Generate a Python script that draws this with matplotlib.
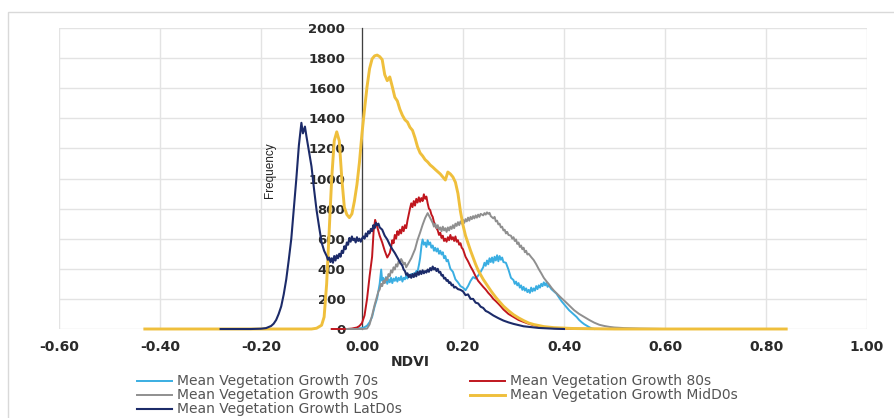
import matplotlib.pyplot as plt
import numpy as np
from matplotlib.patches import Rectangle

# NDVI histograms, (ndvi, frequency) pairs per period
growth_70s = [(-0.04, 0), (-0.02, 0), (-0.01, 3), (0.0, 6), (0.005, 12), (0.01, 22), (0.015, 45), (0.02, 80),
              (0.025, 150), (0.03, 205), (0.035, 300), (0.038, 395), (0.04, 320), (0.042, 340), (0.045, 310),
              (0.0475, 345), (0.05, 300), (0.0525, 330), (0.055, 310), (0.0575, 340), (0.06, 305), (0.0625, 335),
              (0.065, 320), (0.0675, 345), (0.07, 315), (0.0725, 340), (0.075, 325), (0.0775, 350), (0.08, 315),
              (0.0825, 340), (0.085, 330), (0.0875, 355), (0.09, 335), (0.0925, 360), (0.095, 345),
              (0.0975, 365), (0.10, 350), (0.1025, 370), (0.105, 360), (0.1075, 385), (0.11, 380),
              (0.113, 430), (0.115, 470), (0.118, 560), (0.12, 595), (0.1225, 560), (0.125, 575),
              (0.1275, 545), (0.13, 590), (0.1325, 560), (0.135, 575), (0.1375, 540), (0.14, 555),
              (0.1425, 520), (0.145, 540), (0.1475, 515), (0.15, 535), (0.1525, 500), (0.155, 520),
              (0.1575, 495), (0.16, 510), (0.1625, 470), (0.165, 485), (0.1675, 450), (0.17, 460),
              (0.175, 400), (0.18, 380), (0.185, 330), (0.19, 310), (0.195, 285), (0.20, 275), (0.205, 258),
              (0.21, 285), (0.215, 320), (0.22, 345), (0.225, 335), (0.23, 355), (0.235, 380), (0.24, 410),
              (0.2425, 440), (0.245, 420), (0.2475, 455), (0.25, 430), (0.2525, 470), (0.255, 445),
              (0.2575, 475), (0.26, 440), (0.2625, 480), (0.265, 455), (0.2675, 490), (0.27, 450),
              (0.2725, 485), (0.275, 460), (0.2775, 475), (0.28, 445), (0.285, 440), (0.29, 395),
              (0.295, 340), (0.30, 325), (0.3025, 300), (0.305, 315), (0.3075, 290), (0.31, 305),
              (0.3125, 275), (0.315, 290), (0.3175, 260), (0.32, 280), (0.3225, 255), (0.325, 270),
              (0.3275, 245), (0.33, 260), (0.3325, 240), (0.335, 275), (0.3375, 250), (0.34, 270),
              (0.3425, 255), (0.345, 285), (0.3475, 265), (0.35, 290), (0.3525, 275), (0.355, 300),
              (0.3575, 285), (0.36, 310), (0.3625, 290), (0.365, 306), (0.3675, 280), (0.37, 290),
              (0.375, 265), (0.38, 250), (0.385, 235), (0.39, 210), (0.395, 185), (0.40, 165), (0.405, 145),
              (0.41, 125), (0.415, 110), (0.42, 95), (0.425, 80), (0.43, 60), (0.435, 45), (0.44, 32),
              (0.445, 22), (0.45, 12), (0.455, 4), (0.46, 0)]

growth_80s = [(-0.06, 0), (-0.03, 0), (-0.02, 3), (-0.01, 10), (-0.005, 20), (0.0, 40), (0.005, 90), (0.01, 200),
              (0.015, 350), (0.02, 480), (0.023, 650), (0.026, 725), (0.03, 680), (0.035, 620), (0.04, 575),
              (0.045, 520), (0.05, 475), (0.055, 505), (0.0575, 540), (0.06, 590), (0.0625, 570), (0.065, 625),
              (0.0675, 600), (0.07, 650), (0.0725, 625), (0.075, 660), (0.0775, 635), (0.08, 680), (0.0825, 650),
              (0.085, 690), (0.0875, 670), (0.09, 720), (0.0925, 760), (0.095, 800), (0.0975, 835), (0.10, 810),
              (0.1025, 850), (0.105, 820), (0.1075, 865), (0.11, 840), (0.1125, 875), (0.115, 845),
              (0.1175, 870), (0.12, 850), (0.1225, 895), (0.125, 865), (0.1275, 880), (0.13, 835),
              (0.1325, 800), (0.135, 790), (0.1375, 760), (0.14, 745), (0.1425, 710), (0.145, 690),
              (0.1475, 670), (0.15, 655), (0.1525, 625), (0.155, 640), (0.1575, 605), (0.16, 620),
              (0.1625, 585), (0.165, 600), (0.1675, 580), (0.17, 610), (0.1725, 590), (0.175, 625),
              (0.1775, 595), (0.18, 610), (0.1825, 585), (0.185, 615), (0.1875, 580), (0.19, 590),
              (0.1925, 560), (0.195, 570), (0.1975, 540), (0.20, 530), (0.205, 480), (0.21, 450), (0.215, 415),
              (0.22, 385), (0.225, 350), (0.23, 320), (0.235, 300), (0.24, 280), (0.245, 262), (0.25, 240),
              (0.255, 222), (0.26, 200), (0.265, 185), (0.27, 168), (0.275, 150), (0.28, 130), (0.285, 115),
              (0.29, 100), (0.295, 90), (0.30, 80), (0.31, 60), (0.32, 47), (0.33, 35), (0.34, 25), (0.36, 12),
              (0.38, 6), (0.40, 3), (0.45, 1), (0.50, 0)]

growth_90s = [(-0.03, 0), (0.0, 0), (0.01, 3), (0.015, 30), (0.02, 90), (0.025, 160), (0.03, 220), (0.0325, 250),
              (0.035, 262), (0.0375, 300), (0.04, 285), (0.0425, 320), (0.045, 305), (0.0475, 340), (0.05, 325),
              (0.0525, 365), (0.055, 350), (0.0575, 390), (0.06, 375), (0.0625, 410), (0.065, 395),
              (0.0675, 430), (0.07, 415), (0.0725, 450), (0.075, 435), (0.0775, 465), (0.08, 450),
              (0.0825, 430), (0.085, 440), (0.0875, 410), (0.09, 425), (0.0925, 440), (0.095, 455),
              (0.0975, 470), (0.10, 490), (0.105, 530), (0.11, 592), (0.115, 640), (0.12, 692), (0.125, 737),
              (0.13, 770), (0.135, 738), (0.14, 705), (0.1425, 680), (0.145, 700), (0.1475, 670), (0.15, 690),
              (0.1525, 660), (0.155, 675), (0.1575, 650), (0.16, 680), (0.1625, 655), (0.165, 670),
              (0.1675, 645), (0.17, 675), (0.1725, 655), (0.175, 680), (0.1775, 665), (0.18, 690),
              (0.1825, 670), (0.185, 700), (0.1875, 685), (0.19, 710), (0.1925, 690), (0.195, 715),
              (0.1975, 700), (0.20, 725), (0.2025, 705), (0.205, 730), (0.2075, 715), (0.21, 740),
              (0.2125, 720), (0.215, 745), (0.2175, 730), (0.22, 750), (0.2225, 735), (0.225, 755),
              (0.2275, 740), (0.23, 760), (0.2325, 745), (0.235, 765), (0.24, 755), (0.2425, 770),
              (0.245, 760), (0.2475, 775), (0.25, 765), (0.2525, 772), (0.255, 750), (0.26, 735),
              (0.2625, 745), (0.265, 715), (0.2675, 720), (0.27, 695), (0.2725, 700), (0.275, 675),
              (0.2775, 680), (0.28, 655), (0.2825, 660), (0.285, 635), (0.2875, 645), (0.29, 625),
              (0.295, 620), (0.2975, 600), (0.30, 610), (0.3025, 585), (0.305, 595), (0.3075, 565),
              (0.31, 575), (0.3125, 545), (0.315, 555), (0.3175, 530), (0.32, 540), (0.3225, 510),
              (0.325, 520), (0.3275, 495), (0.33, 500), (0.335, 478), (0.34, 458), (0.345, 430), (0.35, 398),
              (0.355, 370), (0.36, 340), (0.365, 318), (0.37, 298), (0.375, 275), (0.38, 255), (0.385, 238),
              (0.39, 220), (0.395, 205), (0.40, 190), (0.41, 158), (0.42, 125), (0.43, 100), (0.44, 80),
              (0.45, 60), (0.46, 42), (0.47, 28), (0.48, 20), (0.49, 14), (0.50, 10), (0.52, 6), (0.55, 3),
              (0.60, 0)]

growth_mid00s = [(-0.43, 0), (-0.30, 0), (-0.15, 0), (-0.10, 0), (-0.09, 5), (-0.08, 25), (-0.075, 80),
                 (-0.07, 300), (-0.065, 650), (-0.06, 1000), (-0.055, 1250), (-0.05, 1310), (-0.045, 1250),
                 (-0.04, 1000), (-0.035, 810), (-0.03, 760), (-0.025, 740), (-0.02, 765), (-0.015, 850),
                 (-0.01, 960), (-0.005, 1110), (0.0, 1300), (0.005, 1460), (0.01, 1610), (0.015, 1730),
                 (0.02, 1795), (0.025, 1815), (0.03, 1820), (0.035, 1810), (0.04, 1790), (0.045, 1690),
                 (0.05, 1650), (0.055, 1675), (0.06, 1610), (0.065, 1540), (0.07, 1515), (0.075, 1460),
                 (0.08, 1420), (0.085, 1390), (0.09, 1375), (0.095, 1340), (0.10, 1320), (0.105, 1270),
                 (0.11, 1210), (0.115, 1170), (0.12, 1150), (0.125, 1125), (0.13, 1110), (0.135, 1090),
                 (0.14, 1076), (0.145, 1060), (0.15, 1045), (0.155, 1030), (0.16, 1010), (0.165, 990),
                 (0.17, 1043), (0.175, 1030), (0.18, 1010), (0.185, 975), (0.19, 900), (0.195, 780),
                 (0.20, 690), (0.205, 620), (0.21, 570), (0.215, 520), (0.22, 475), (0.225, 430), (0.23, 390),
                 (0.235, 360), (0.24, 330), (0.245, 305), (0.25, 280), (0.255, 255), (0.26, 232), (0.265, 210),
                 (0.27, 190), (0.28, 152), (0.29, 122), (0.30, 95), (0.31, 74), (0.32, 56), (0.33, 40),
                 (0.34, 30), (0.36, 16), (0.38, 9), (0.42, 3), (0.50, 0), (0.84, 0)]

growth_lat00s = [(-0.28, 0), (-0.22, 0), (-0.20, 2), (-0.19, 6), (-0.18, 20), (-0.175, 35), (-0.17, 60),
                 (-0.165, 100), (-0.16, 150), (-0.155, 230), (-0.15, 330), (-0.145, 460), (-0.14, 600),
                 (-0.135, 800), (-0.13, 1000), (-0.125, 1220), (-0.12, 1370), (-0.117, 1300), (-0.113, 1345),
                 (-0.11, 1280), (-0.105, 1180), (-0.10, 1080), (-0.095, 930), (-0.09, 790), (-0.085, 680),
                 (-0.08, 575), (-0.075, 520), (-0.07, 485), (-0.0675, 460), (-0.065, 475), (-0.0625, 445),
                 (-0.06, 470), (-0.0575, 440), (-0.055, 485), (-0.0525, 455), (-0.05, 490), (-0.0475, 470),
                 (-0.045, 500), (-0.0425, 480), (-0.04, 520), (-0.0375, 505), (-0.035, 550), (-0.0325, 530),
                 (-0.03, 575), (-0.0275, 560), (-0.025, 605), (-0.0225, 580), (-0.02, 615), (-0.0175, 590),
                 (-0.015, 600), (-0.0125, 575), (-0.01, 610), (-0.0075, 585), (-0.005, 600), (-0.0025, 580),
                 (0.0, 600), (0.0025, 615), (0.005, 600), (0.0075, 635), (0.01, 615), (0.0125, 650),
                 (0.015, 635), (0.0175, 665), (0.02, 650), (0.0225, 690), (0.025, 670), (0.0275, 705),
                 (0.03, 690), (0.0325, 700), (0.035, 675), (0.04, 660), (0.045, 620), (0.05, 595), (0.055, 560),
                 (0.06, 530), (0.065, 505), (0.07, 475), (0.075, 445), (0.08, 420), (0.0825, 395), (0.085, 385),
                 (0.0875, 360), (0.09, 370), (0.0925, 345), (0.095, 360), (0.0975, 340), (0.10, 365),
                 (0.1025, 345), (0.105, 370), (0.1075, 350), (0.11, 380), (0.1125, 360), (0.115, 385),
                 (0.1175, 365), (0.12, 390), (0.1225, 370), (0.125, 385), (0.1275, 375), (0.13, 395),
                 (0.1325, 380), (0.135, 405), (0.1375, 390), (0.14, 415), (0.1425, 395), (0.145, 405),
                 (0.1475, 385), (0.15, 400), (0.1525, 375), (0.155, 380), (0.1575, 355), (0.16, 360),
                 (0.1625, 335), (0.165, 340), (0.1675, 320), (0.17, 325), (0.1725, 305), (0.175, 310),
                 (0.1775, 290), (0.18, 295), (0.1825, 275), (0.185, 280), (0.19, 265), (0.195, 260),
                 (0.20, 250), (0.205, 225), (0.21, 230), (0.215, 200), (0.22, 200), (0.225, 175), (0.23, 170),
                 (0.235, 148), (0.24, 140), (0.245, 120), (0.25, 112), (0.26, 90), (0.27, 72), (0.28, 56),
                 (0.29, 44), (0.30, 34), (0.32, 18), (0.35, 7), (0.38, 2), (0.40, 0)]

series_labels = ["Mean Vegetation Growth 70s", "Mean Vegetation Growth 80s", "Mean Vegetation Growth 90s",
                 "Mean Vegetation Growth MidD0s", "Mean Vegetation Growth LatD0s"]
x_ticks = [-0.6, -0.4, -0.2, 0.0, 0.2, 0.4, 0.6, 0.8, 1.0]
y_ticks = [0, 200, 400, 600, 800, 1000, 1200, 1400, 1600, 1800, 2000]

colors = ["#3aaee2", "#c0161e", "#8f8f8f", "#efbf3c", "#1c2b69"]
widths = [1.4, 1.4, 1.4, 2.1, 1.5]

fig = plt.figure(figsize=(8.94, 4.18), dpi=100)
ax = fig.add_axes([59 / 894, 1 - 329 / 418, 808 / 894, 301 / 418])

# light chart border
fig.patches.append(Rectangle((8 / 894, -0.1), 1.2, 1.1 - 12 / 418, transform=fig.transFigure,
                             fill=False, edgecolor="#d9d9d9", linewidth=1.0))

lines = []
for data, label, color, lw in zip([growth_70s, growth_80s, growth_90s, growth_mid00s, growth_lat00s],
                                  series_labels, colors, widths):
    arr = np.array(data)
    ln, = ax.plot(arr[:, 0], arr[:, 1], color=color, linewidth=lw, label=label,
                  clip_on=False, solid_joinstyle="round")
    lines.append(ln)

ax.set_xlim(-0.6, 1.0)
ax.set_ylim(0, 2000)
ax.set_xticks(x_ticks)
ax.set_xticklabels([f"{v:.2f}" for v in x_ticks])
ax.set_yticks(y_ticks)
ax.grid(True, color="#e3e3e3", linewidth=1.0)
ax.set_axisbelow(True)

for side in ["top", "right", "bottom"]:
    ax.spines[side].set_visible(False)
ax.spines["left"].set_position(("data", 0))
ax.spines["left"].set_color("#404040")
ax.spines["left"].set_linewidth(0.9)
ax.spines["left"].set_zorder(1.5)

ax.tick_params(axis="both", length=0, labelcolor="#2a2a2a")
ax.tick_params(axis="y", pad=12, labelsize=9.5)
ax.tick_params(axis="x", pad=8, labelsize=10)
for lbl in ax.get_xticklabels() + ax.get_yticklabels():
    lbl.set_fontweight("bold")

fig.text(270 / 894, 1 - 170 / 418, "Frequency", rotation=90, ha="center", va="center",
         fontsize=8.5, family="Liberation Sans", color="#222222")
fig.text(410 / 894, 1 - 362 / 418, "NDVI", ha="center", va="center",
         fontsize=10, fontweight="bold", color="#2a2a2a")

# legend filled column-wise: 70s, 90s, LatD0s | 80s, MidD0s
order = [0, 2, 4, 1, 3]
fig.legend([lines[i] for i in order], [series_labels[i] for i in order],
           loc="upper left", bbox_to_anchor=(137 / 894, 1 - 374.5 / 418), ncol=2,
           frameon=False, fontsize=10, labelcolor="#555555", borderpad=0, borderaxespad=0,
           handlelength=2.5, handletextpad=0.35, columnspacing=4.95, labelspacing=0.0)

fig.savefig("out.png", dpi=100, facecolor="white")
